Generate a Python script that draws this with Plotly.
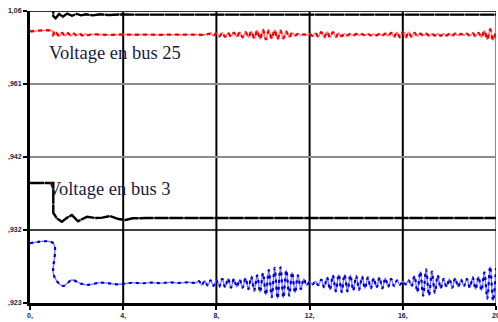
import numpy as np
import plotly.graph_objects as go

# ---------------- data (y in axis-tick units: 0..4) ----------------
x_ticks = [0, 4, 8, 12, 16, 20]
x_labels = ["0,", "4,", "8,", "12,", "16,", "20"]
y_ticks = [0, 1, 2, 3, 4]
y_labels = [",923", ",932", ",942", ",961", "1,06"]

# black, bus 25 (pre-fault value is above the visible range)
b25_t = [0, 1.0, 1.0, 1.1, 1.25, 1.4, 1.6, 1.8, 2.0, 2.2, 2.4, 2.7, 3.0, 3.4, 3.8, 4.5, 20]
b25_v = [4.25, 4.25, 3.93, 3.90, 3.96, 3.92, 3.965, 3.935, 3.96, 3.94, 3.955, 3.94, 3.955, 3.945, 3.952, 3.95, 3.95]

# red, bus 25
r25_t_a = [0, 1.0, 1.0, 1.125, 1.25, 1.375, 1.5, 1.625, 1.75, 1.875, 2.0, 2.125, 2.25, 2.375, 2.5, 2.625,
           3.0, 3.5, 4.0, 4.5, 5.0, 5.5, 6.0, 6.5, 7.0, 7.5]
r25_v_a = [3.72, 3.72, 3.66, 3.70, 3.655, 3.70, 3.66, 3.695, 3.66, 3.69, 3.665, 3.69, 3.665, 3.685, 3.67, 3.68,
           3.676, 3.674, 3.678, 3.675, 3.677, 3.674, 3.676, 3.675, 3.677, 3.675]
r25_osc_start = 7.75
r25_v_osc = [3.69, 3.66, 3.70, 3.65, 3.705, 3.645, 3.70, 3.65, 3.705, 3.645, 3.71, 3.64, 3.71, 3.64,
             3.72, 3.625, 3.735, 3.615, 3.74, 3.61, 3.735, 3.62, 3.74, 3.615, 3.73, 3.625, 3.72, 3.64,
             3.70, 3.665, 3.685, 3.67, 3.68, 3.672, 3.685, 3.66, 3.70, 3.645, 3.71, 3.64, 3.715, 3.64,
             3.71, 3.645, 3.70, 3.655, 3.69, 3.665, 3.686, 3.666, 3.685, 3.668, 3.684, 3.667, 3.686, 3.666,
             3.685, 3.668, 3.686, 3.664, 3.69, 3.66, 3.70, 3.645, 3.71, 3.64, 3.715, 3.64, 3.71, 3.645,
             3.70, 3.655, 3.69, 3.662, 3.69, 3.662, 3.688, 3.664, 3.69, 3.66, 3.69, 3.664, 3.688, 3.662,
             3.69, 3.665, 3.686, 3.666, 3.69, 3.66, 3.695, 3.655, 3.70, 3.64, 3.73, 3.61, 3.75, 3.60, 3.74]

# black, bus 3
b3_t = [0, 1.0, 1.0, 1.15, 1.37, 1.6, 1.8, 2.06, 2.45, 2.8, 3.1, 3.43, 3.8, 4.1, 4.4, 5.0, 20]
b3_v = [1.644, 1.644, 1.233, 1.16, 1.114, 1.17, 1.205, 1.12, 1.182, 1.165, 1.17, 1.19, 1.15, 1.137, 1.16, 1.164, 1.164]

# blue, bus 3
bl3_t_a = [0, 1.0, 1.0, 1.15, 1.42, 1.6, 1.8, 2.15, 2.45, 3.0, 3.4, 3.7, 4.0, 4.4, 4.8, 5.2, 5.6, 6.0,
           6.4, 6.8, 7.1]
bl3_v_a = [0.818, 0.818, 0.41, 0.30, 0.233, 0.27, 0.315, 0.27, 0.247, 0.278, 0.27, 0.256, 0.262, 0.278,
           0.27, 0.28, 0.272, 0.282, 0.274, 0.284, 0.276]
bl3_osc_start = 7.25
bl3_v_osc = [0.30, 0.245, 0.305, 0.24, 0.31, 0.235, 0.31, 0.225, 0.33, 0.215, 0.335, 0.21, 0.33, 0.22,
             0.32, 0.21, 0.34, 0.19, 0.36, 0.17, 0.38, 0.15, 0.41, 0.11, 0.45, 0.08, 0.48, 0.06,
             0.49, 0.07, 0.45, 0.10, 0.42, 0.14, 0.38, 0.19, 0.33, 0.24, 0.29, 0.255, 0.295, 0.245,
             0.32, 0.21, 0.35, 0.18, 0.38, 0.16, 0.39, 0.15, 0.39, 0.16, 0.38, 0.17, 0.37, 0.18,
             0.36, 0.20, 0.35, 0.20, 0.34, 0.21, 0.35, 0.20, 0.34, 0.22, 0.33, 0.23, 0.31, 0.25,
             0.295, 0.255, 0.31, 0.23, 0.37, 0.15, 0.43, 0.10, 0.46, 0.10, 0.43, 0.14, 0.38, 0.20,
             0.33, 0.22, 0.33, 0.21, 0.34, 0.22, 0.32, 0.23, 0.33, 0.21, 0.35, 0.19, 0.36, 0.17,
             0.42, 0.06, 0.50, 0.03, 0.48]

step = 0.125
r25_t = r25_t_a + list(r25_osc_start + step * np.arange(len(r25_v_osc)))
r25_v = r25_v_a + r25_v_osc
bl3_t = bl3_t_a + list(bl3_osc_start + step * np.arange(len(bl3_v_osc)))
bl3_v = bl3_v_a + bl3_v_osc

# ---------------- figure ----------------
fig = go.Figure()

def add_series(t, v, thin_color, thick_color, thick_w, dash, smooth=True):
    shape = "spline" if smooth else "linear"
    fig.add_trace(go.Scatter(x=t, y=v, mode="lines", line=dict(color=thin_color, width=1.3, shape=shape),
                             hoverinfo="skip", showlegend=False))
    fig.add_trace(go.Scatter(x=t, y=v, mode="lines",
                             line=dict(color=thick_color, width=thick_w, dash=dash, shape=shape),
                             hoverinfo="skip", showlegend=False))

add_series(b25_t, b25_v, "#444444", "#000000", 2.4, "14px,1px", smooth=False)
add_series(r25_t, r25_v, "#ff6a6a", "#ee0000", 2.3, "4px,4px")
add_series(b3_t, b3_v, "#444444", "#000000", 2.4, "14px,1px", smooth=False)
add_series(bl3_t, bl3_v, "#7070ff", "#0000cc", 2.2, "3px,4px")

shapes = []
for xv in [4, 8, 12, 16]:
    shapes.append(dict(type="line", xref="x", yref="paper", x0=xv, x1=xv, y0=0, y1=1,
                       line=dict(color="#000000", width=2), layer="below"))
shapes.append(dict(type="line", xref="x", yref="paper", x0=20, x1=20, y0=0, y1=1,
                   line=dict(color="#8a8a8a", width=2), layer="below"))
for yv, col, w in [(1, "#000000", 1.5), (2, "#8c8c8c", 2), (3, "#8c8c8c", 2), (4, "#333333", 2)]:
    shapes.append(dict(type="line", xref="paper", yref="y", x0=0, x1=1, y0=yv, y1=yv,
                       line=dict(color=col, width=w), layer="below"))

tickfont = dict(family="Liberation Sans", size=7, color="#22224a", weight="bold")
fig.update_layout(
    width=498, height=322,
    margin=dict(l=30, r=2, t=11, b=19),
    paper_bgcolor="white", plot_bgcolor="white",
    shapes=shapes,
    xaxis=dict(range=[0, 20], tickvals=x_ticks, ticktext=x_labels, showgrid=False, zeroline=False,
               showline=True, linecolor="#000000", linewidth=3, automargin=False,
               ticklabeloverflow="allow",
               ticks="outside", ticklen=4, tickwidth=2, tickcolor="#000000", tickfont=tickfont),
    yaxis=dict(range=[0, 4], tickvals=y_ticks, ticktext=y_labels, showgrid=False, zeroline=False,
               showline=True, linecolor="#000000", linewidth=3, automargin=False,
               ticklabeloverflow="allow",
               ticks="outside", ticklen=4, tickwidth=2, tickcolor="#000000", tickfont=tickfont),
    annotations=[
        dict(x=0.72, y=3.43, xref="x", yref="y", text="Voltage en bus 25", showarrow=False,
             xanchor="left", yanchor="middle",
             font=dict(family="Liberation Serif", size=18.5, color="#1a1a40")),
        dict(x=0.7, y=1.56, xref="x", yref="y", text="Voltage en bus 3", showarrow=False,
             xanchor="left", yanchor="middle",
             font=dict(family="Liberation Serif", size=18.5, color="#1a1a40")),
    ],
)

fig.write_html("out.html", config={"displayModeBar": False},
               post_script="document.body.style.margin='0';document.body.style.overflow='hidden';")
